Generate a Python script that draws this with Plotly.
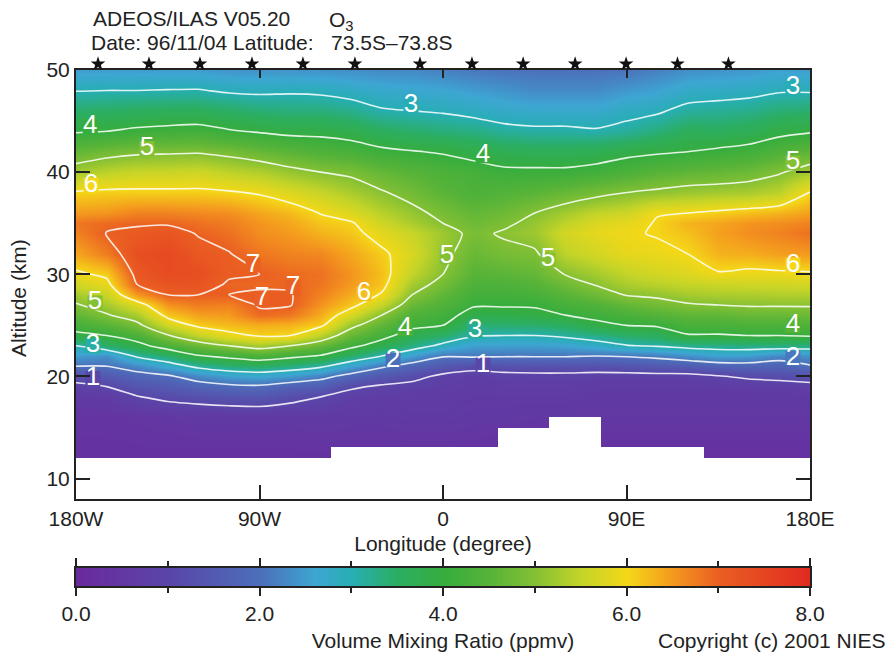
import plotly.graph_objects as go

# Altitude rows (km) and longitude columns (degrees)
altitudes = [12,16,18,19,20,21,22,23,24,25,26,27,28,29,30,32,34,35,36,38,40,42,44,46,48,50]
longitudes = [-180,-165,-150,-135,-120,-105,-90,-75,-60,-45,-30,-15,0,15,30,45,60,75,90,105,120,135,150,165,180]

# O3 mixing ratio (ppmv), one list per longitude, bottom to top
o3_180w = [.3,.4,.6,.85,1.25,2.0,2.5,3.0,3.85,4.25,4.6,4.95,5.25,5.6,5.9,6.4,6.7,6.8,6.5,6.05,5.25,4.65,3.95,3.45,2.98,2.5]
o3_165w = [.3,.4,.65,1.0,1.5,2.0,2.35,3.45,4.0,4.5,4.95,5.25,5.55,5.85,6.1,6.75,7.02,6.9,6.55,6.1,5.45,4.8,4.0,3.5,3.0,2.5]
o3_150w = [.3,.45,.97,1.35,1.75,2.3,3.1,3.8,4.3,4.85,5.3,5.75,6.5,7.0,7.15,7.3,7.1,6.95,6.7,6.1,5.55,4.9,4.1,3.55,3.0,2.5]
o3_135w = [.3,.5,1.15,1.5,1.9,2.7,3.45,4.3,4.95,5.65,6.15,6.55,7.0,7.2,7.35,7.4,7.2,6.95,6.7,6.1,5.55,4.93,4.15,3.6,3.02,2.5]
o3_120w = [.3,.55,1.25,1.7,2.3,3.15,3.95,4.7,5.45,6.1,6.45,6.75,7.0,7.2,7.3,7.15,6.97,6.85,6.65,6.1,5.6,4.95,4.2,3.6,3.03,2.5]
o3_105w = [.3,.55,1.35,1.85,2.55,3.4,4.15,5.0,5.85,6.25,6.5,6.7,7.0,6.95,7.05,7.02,6.85,6.75,6.6,6.05,5.45,4.85,4.05,3.5,2.93,2.4]
o3_090w = [.3,.55,1.4,1.9,2.65,3.5,4.35,5.25,6.05,6.35,6.9,7.05,7.1,6.9,7.0,6.8,6.6,6.55,6.4,5.95,5.35,4.7,3.95,3.4,2.9,2.4]
o3_075w = [.3,.55,1.2,1.65,2.5,3.35,4.15,5.0,6.0,6.3,6.8,7.03,7.03,6.95,6.9,6.7,6.5,6.4,6.25,5.75,5.15,4.55,3.85,3.35,2.93,2.4]
o3_060w = [.3,.6,1.0,1.55,2.2,3.1,3.95,4.65,5.4,6.1,6.35,6.55,6.7,6.8,6.85,6.65,6.3,6.15,5.98,5.55,5.0,4.4,3.85,3.35,2.9,2.4]
o3_045w = [.3,.55,.75,1.1,1.75,2.6,3.45,4.15,4.65,5.15,5.7,6.15,6.35,6.5,6.55,6.4,6.15,6.05,5.75,5.3,4.9,4.3,3.75,3.25,2.8,2.35]
o3_030w = [.3,.55,.7,.9,1.45,2.1,3.0,3.7,4.2,4.6,5.0,5.5,5.95,6.15,6.2,6.1,5.8,5.6,5.4,5.05,4.65,4.12,3.55,3.05,2.7,2.3]
o3_015w = [.3,.6,.65,.8,1.2,1.75,2.5,3.3,3.7,4.15,4.4,4.7,5.0,5.25,5.5,5.7,5.55,5.3,5.15,4.8,4.5,4.03,3.45,3.0,2.65,2.3]
o3_000 = [.3,.6,.65,.75,.85,1.45,2.05,2.85,3.45,4.0,4.2,4.4,4.6,4.8,5.0,5.15,5.2,5.0,4.85,4.55,4.35,3.95,3.35,2.95,2.6,2.2]
o3_015e = [.3,.55,.6,.65,.75,1.2,2.1,2.5,3.05,3.4,3.8,4.05,4.2,4.35,4.5,4.7,4.88,4.75,4.65,4.35,4.25,3.8,3.3,2.85,2.5,2.1]
o3_030e = [.25,.55,.6,.7,.8,1.3,2.05,2.5,3.0,3.4,3.8,4.05,4.2,4.35,4.55,4.85,5.06,4.9,4.75,4.45,4.1,3.7,3.15,2.75,2.4,2.05]
o3_045e = [.25,.5,.6,.7,.85,1.3,2.05,2.5,3.0,3.45,3.87,4.05,4.25,4.45,4.65,4.93,5.2,5.15,5.0,4.55,4.1,3.65,3.1,2.7,2.3,2.03]
o3_060e = [.25,.5,.6,.7,.85,1.3,2.05,2.55,3.1,3.55,4.0,4.25,4.5,4.75,5.02,5.45,5.65,5.45,5.25,4.7,4.1,3.65,3.1,2.7,2.3,2.02]
o3_075e = [.25,.5,.55,.65,.8,1.3,2.0,2.75,3.25,3.85,4.15,4.4,4.75,5.03,5.25,5.65,5.85,5.75,5.5,4.85,4.2,3.7,3.05,2.7,2.3,2.03]
o3_090e = [.25,.5,.55,.65,.8,1.35,2.05,2.97,3.45,4.0,4.3,4.65,5.03,5.3,5.5,5.85,5.95,5.85,5.6,5.0,4.35,3.85,3.15,2.85,2.45,2.05]
o3_105e = [.25,.5,.55,.65,.8,1.5,2.15,3.05,3.55,4.07,4.45,4.8,5.1,5.4,5.65,5.9,6.03,6.03,5.98,5.1,4.5,3.93,3.35,2.93,2.55,2.2]
o3_120e = [.25,.5,.55,.65,.8,1.55,2.35,3.2,3.95,4.3,4.6,4.95,5.25,5.5,5.75,6.0,6.2,6.3,6.0,5.2,4.6,4.0,3.6,3.15,2.75,2.35]
o3_135e = [.25,.5,.55,.65,.95,1.7,2.55,3.25,3.95,4.3,4.6,5.0,5.3,5.55,5.95,6.3,6.45,6.4,6.1,5.25,4.65,4.1,3.55,3.2,2.8,2.4]
o3_150e = [.25,.5,.55,.7,1.1,1.75,2.5,3.3,4.0,4.35,4.7,5.05,5.3,5.6,5.87,6.35,6.6,6.55,6.2,5.3,4.75,4.2,3.65,3.25,2.85,2.45]
o3_165e = [.25,.5,.55,.7,1.2,1.7,2.25,3.3,4.0,4.35,4.7,5.05,5.35,5.6,5.9,6.45,6.7,6.6,6.3,5.45,4.95,4.4,3.85,3.4,2.95,2.55]
o3_180e = [.25,.5,.55,.8,1.3,1.95,2.35,3.3,4.05,4.4,4.75,5.05,5.35,5.65,5.93,6.5,6.85,6.7,6.45,6.02,5.25,4.6,3.95,3.45,2.95,2.5]

columns = [o3_180w,o3_165w,o3_150w,o3_135w,o3_120w,o3_105w,o3_090w,o3_075w,o3_060w,o3_045w,o3_030w,o3_015w,
           o3_000,o3_015e,o3_030e,o3_045e,o3_060e,o3_075e,o3_090e,o3_105e,o3_120e,o3_135e,o3_150e,o3_165e,o3_180e]
z_grid = [list(row) for row in zip(*columns)]

# Lowest altitude with data, per longitude band
floor_left = [-180,-55,27,52,77.5,128]
floor_right = [-55,27,52,77.5,128,180]
floor_top = [12,13.1,15,16,13.1,12]

# Contour labels where the reference places them, with the field value behind each
label_values = [3,3,4,4,5,5,6,5,5,7,7,7,6,6,5,4,4,3,3,2,2,1,1]
label_lons = [-15.7,171.6,-173,19.6,-145.2,171.6,-172.6,2,51.5,-93.2,-73.6,-88.8,-38.8,171.6,-170.7,-18.6,171.6,-171.7,15.7,-24.5,171.6,-171.7,19.6]
label_alts = [46.5,48.3,44.5,41.6,42.3,40.9,38.7,31.7,31.4,30.9,28.7,27.6,28.1,30.9,27.2,24.7,25,23,24.5,21.6,21.8,19.8,21.1]
label_backs = [3,3,4,4,5,5,6,5,5,7,7,7,6.2,6,5,4.3,4.5,3.1,3.2,2,2.1,1,1.05]

# Occultation stars along the top
star_lons = [-169.2,-144.2,-119.2,-93.7,-68.7,-43.2,-11.3,14.2,39.3,64.8,89.8,115,140]
# Colour bar
bar_levels = [0,1,2,2.6,3,3.5,4,4.5,5,5.5,6,6.5,7,8]
AXIS_BOTTOM = 8

cmax = 8.0
color_stops = [(0.0,"#6a2a9e"),(1.0,"#5a45a8"),(2.0,"#4c6fba"),(2.6,"#3da6d2"),(3.0,"#27aeb4"),(3.5,"#2bae62"),
               (4.0,"#36ad3e"),(4.5,"#56b338"),(5.0,"#84c034"),(5.5,"#c4d428"),(6.0,"#f4d818"),(6.5,"#f49a1e"),
               (7.0,"#ea5f22"),(8.0,"#e02a20")]
colorscale = [[v/cmax,c] for v,c in color_stops]

FONT = "Liberation Sans"
FS = 21
INK = "#222222"
# The page keeps an 8 px body margin, so the figure is drawn 8 px smaller and offset
OFFSET = 8
W, H = 893-OFFSET, 653-OFFSET
px = lambda v: (v-OFFSET)/W
py = lambda v: 1-(v-OFFSET)/H

fig = go.Figure()
fig.add_trace(go.Heatmap(x=longitudes,y=altitudes,z=z_grid,zmin=0,zmax=cmax,colorscale=colorscale,zsmooth="best",showscale=False,xaxis="x",yaxis="y"))
fig.add_trace(go.Contour(x=longitudes,y=altitudes,z=z_grid,autocontour=False,showscale=False,
    contours=dict(coloring="none",start=1,end=7,size=1,showlabels=False),
    line=dict(color="rgba(255,255,255,0.85)",width=1.6,smoothing=0.7),xaxis="x",yaxis="y"))
fig.add_trace(go.Bar(x=[(a+b)/2 for a,b in zip(floor_left,floor_right)],width=[b-a for a,b in zip(floor_left,floor_right)],
    y=[t-AXIS_BOTTOM for t in floor_top],base=AXIS_BOTTOM,marker=dict(color="white",line=dict(width=0)),xaxis="x",yaxis="y",showlegend=False))
fig.add_trace(go.Scatter(x=label_lons,y=label_alts,mode="markers+text",text=[str(v) for v in label_values],textposition="middle center",
    textfont=dict(family=FONT,size=26,color="white"),
    marker=dict(symbol="square",size=15,color=label_backs,cmin=0,cmax=cmax,colorscale=colorscale,line=dict(width=0)),xaxis="x",yaxis="y",showlegend=False))
fig.add_trace(go.Scatter(x=[0],y=[30],mode="none",xaxis="x3",yaxis="y",showlegend=False))
fig.add_trace(go.Scatter(x=star_lons,y=[0.3]*len(star_lons),mode="markers",cliponaxis=False,
    marker=dict(symbol="star",size=11,color="#111111"),xaxis="x4",yaxis="y4",showlegend=False))
fig.add_trace(go.Heatmap(x=bar_levels,y=[0,1],z=[bar_levels,bar_levels],zmin=0,zmax=cmax,colorscale=colorscale,zsmooth="best",showscale=False,xaxis="x2",yaxis="y2"))

line = dict(showline=True,linewidth=2,linecolor="#222",showgrid=False,zeroline=False,automargin=False)
fig.update_layout(width=W,height=H,margin=dict(l=0,r=0,t=0,b=0),paper_bgcolor="white",plot_bgcolor="white",showlegend=False,
    font=dict(family=FONT,size=FS,color=INK),bargap=0,
    xaxis=dict(domain=[px(76),px(810)],range=[-180,180],tickvals=[-180,-90,0,90,180],ticktext=["180W","90W","0","90E","180E"],
        ticks="inside",ticklen=14,tickwidth=2,tickcolor="#222",mirror=True,title=dict(text="Longitude (degree)",font=dict(size=FS),standoff=7),anchor="y",**line),
    xaxis3=dict(domain=[px(76),px(810)],range=[-180,180],overlaying="x",side="top",anchor="y",tickvals=[-90,0,90],showticklabels=False,
        ticks="inside",ticklen=8,tickwidth=2,tickcolor="#222",showline=False,showgrid=False,zeroline=False,automargin=False),
    xaxis4=dict(domain=[px(76),px(810)],range=[-180,180],visible=False,anchor="y4",automargin=False),
    yaxis4=dict(domain=[py(70),py(50)],range=[0,1],visible=False,anchor="x4",automargin=False),
    yaxis=dict(domain=[py(499),py(70)],range=[8,50],tickvals=[10,20,30,40,50],ticks="inside",ticklen=14,tickwidth=2,tickcolor="#222",
        mirror="ticks",anchor="x",**line),
    xaxis2=dict(domain=[px(76),px(810)],range=[0,8],tickvals=[0,2,4,6,8],ticktext=["0.0","2.0","4.0","6.0","8.0"],ticks="outside",ticklen=8,tickwidth=2,
        tickcolor="#222",minor=dict(dtick=1,ticks="outside",ticklen=5,tickwidth=1.5,tickcolor="#222"),mirror="ticks",
        anchor="y2",title=dict(text="Volume Mixing Ratio (ppmv)",font=dict(size=FS),standoff=9),**line),
    yaxis2=dict(domain=[py(586),py(568)],range=[0,1],showticklabels=False,ticks="",mirror=True,anchor="x2",**line),
    annotations=[
        dict(text="ADEOS/ILAS V05.20",x=px(91),y=py(19),xref="paper",yref="paper",xanchor="left",yanchor="middle",showarrow=False),
        dict(text="O<sub>3</sub>",x=px(327),y=py(21),xref="paper",yref="paper",xanchor="left",yanchor="middle",showarrow=False),
        dict(text="Date: 96/11/04 Latitude:   73.5S–73.8S",x=px(89),y=py(43),xref="paper",yref="paper",xanchor="left",yanchor="middle",showarrow=False),
        dict(text="Altitude (km)",x=px(18),y=py(298),xref="paper",yref="paper",textangle=-90,xanchor="center",yanchor="middle",showarrow=False),
        dict(text="Copyright (c) 2001 NIES",x=px(888),y=py(640),xref="paper",yref="paper",xanchor="right",yanchor="middle",showarrow=False),
    ])
fig.write_html("out.html")
